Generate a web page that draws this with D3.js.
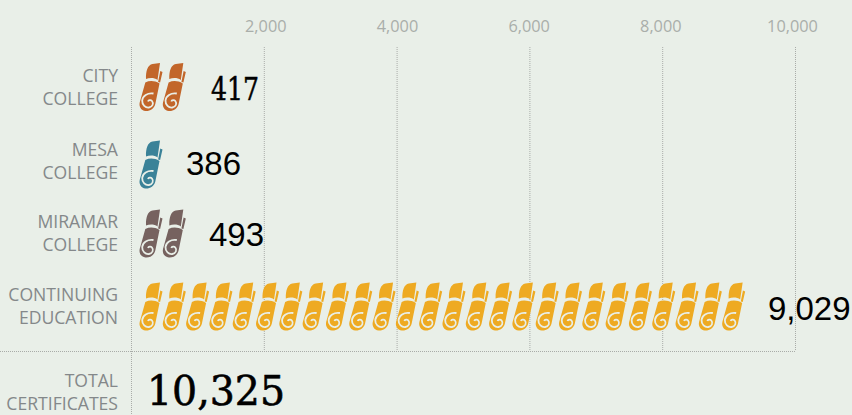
<!DOCTYPE html>
<html><head><meta charset="utf-8">
<script src="https://cdnjs.cloudflare.com/ajax/libs/d3/7.8.5/d3.min.js"></script>
<style>html,body{margin:0;padding:0;background:#e9efe8;overflow:hidden}svg{display:block}</style>
</head><body><svg id="c" width="852" height="415"></svg>
<script>
const labels = [["CITY","COLLEGE"],["MESA","COLLEGE"],["MIRAMAR","COLLEGE"],["CONTINUING","EDUCATION"]];
const values = [417,386,493,9029];
const iconCounts = [2,1,2,26];
const colors = ["#c2662a","#3a8298","#76625f","#eeaa22"];
const valueText = ["417","386","493","9,029"];
const tickValues = [2000,4000,6000,8000,10000];
const total = "10,325";
const unitPerIcon = 351;

const svg = d3.select("#c");
const x = d3.scaleLinear().domain([0,10000]).range([131.5,795.5]);
const tickX = d3.scaleLinear().domain([2000,10000]).range([265.8,792.5]);
const y = d3.scalePoint().domain(d3.range(4)).range([87,306]);
const iconNudge = [0,4.5,0.5,0.5];
const labelNudge = [0,1,0,0];
const valueX = [211,186,209,768];
const valueNudge = [0,2.5,0,1];
const bottom = 351;

const grid = svg.append("g").attr("fill","none").attr("stroke","#a9aca8").attr("stroke-dasharray","1 1");
grid.selectAll("line.v").data(tickValues).join("line")
  .attr("x1",d=>x(d)).attr("x2",d=>x(d)).attr("y1",47).attr("y2",bottom);
grid.append("line").attr("x1",x(0)).attr("x2",x(0)).attr("y1",47).attr("y2",415);
grid.append("line").attr("x1",0).attr("x2",x(10000)).attr("y1",bottom+.5).attr("y2",bottom+.5);

svg.append("g").selectAll("text").data(tickValues).join("text")
  .attr("x",d=>tickX(d)).attr("y",32).attr("text-anchor","middle")
  .attr("font-family","'Open Sans'").attr("font-size",16.3).attr("fill","#a9aeaa")
  .text(d3.format(","));

const lab = svg.append("g").attr("font-family","'Open Sans'").attr("font-size",17.6).attr("fill","#84888a").attr("text-anchor","end");
labels.forEach((l,i)=>{
  lab.append("text").attr("x",118).attr("y",y(i)-5+labelNudge[i]).text(l[0]);
  lab.append("text").attr("x",118).attr("y",y(i)+18+labelNudge[i]).text(l[1]);
});
lab.append("text").attr("x",118).attr("y",386.5).text("TOTAL");
lab.append("text").attr("x",118).attr("y",409.5).text("CERTIFICATES");

const iconTop = "M6.5 16 C6.3 8 8 2 13 1 L20.5 0 L18 17 C15 14.5 10 14.5 6.5 16 Z M20.8 8 L23 9 L20.6 19.5 L18.6 19 Z";
const iconBody = "M5.8 19.5 C10 17.5 15 17.5 20 20.5 L15.8 41 C14.5 46 10.5 48.3 6 48 C1.5 47.5 -0.7 43.5 0.2 39.5 Z";
const iconCurl = "M14 30.5 C8 29.5 3 33 2.7 37.5 C2.5 42 6 45 9.5 44.5 C13 44 14.5 40.5 12.5 38 C11.3 36.6 9 37 8.5 38.5";
const rows = svg.append("g").selectAll("g").data(values).join("g");
rows.each(function(v,i){
  const g = d3.select(this);
  const ic = g.selectAll("g").data(d3.range(iconCounts[i])).join("g")
    .attr("transform",k=>`translate(${x(k*unitPerIcon)+8},${y(i)+iconNudge[i]-24})`);
  ic.append("path").attr("d",iconTop+" "+iconBody).attr("fill",colors[i]);
  ic.append("path").attr("d",iconCurl).attr("fill","none").attr("stroke","#e9efe8").attr("stroke-width",1.8);
  const t = g.append("text").attr("x",valueX[i]).attr("y",y(i)+valueNudge[i]+12.5).attr("fill","#000").text(valueText[i]);
  if(i===0) t.attr("font-family","'DejaVu Serif'").attr("font-size",31).attr("stroke","#000").attr("stroke-width",.5)
    .attr("textLength",48).attr("lengthAdjust","spacingAndGlyphs");
  else t.attr("font-family","'Liberation Sans'").attr("font-size",33);
});
svg.append("text").attr("x",147).attr("y",405.3).attr("font-family","'DejaVu Serif'").attr("font-size",41)
  .attr("fill","#000").attr("stroke","#000").attr("stroke-width",.6)
  .attr("textLength",138).attr("lengthAdjust","spacingAndGlyphs").text(total);
</script></body></html>
